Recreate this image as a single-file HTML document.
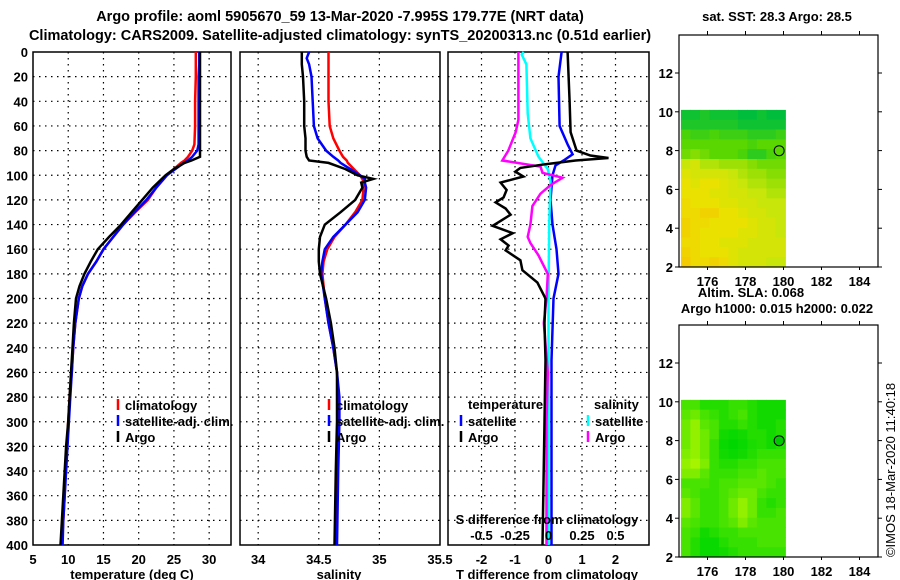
<!DOCTYPE html>
<html><head><meta charset="utf-8">
<style>
html,body{margin:0;padding:0;background:#fff;}
svg{display:block;font-family:"Liberation Sans",sans-serif;font-weight:bold;}
text{font-size:13px;fill:#000;}
</style></head>
<body>
<svg id="chart" width="900" height="580" viewBox="0 0 900 580" xmlns="http://www.w3.org/2000/svg">
<text x="340" y="21" text-anchor="middle" style="font-size:14.5px">Argo profile: aoml 5905670_59 13-Mar-2020 -7.995S 179.77E (NRT data)</text>
<text x="340" y="40" text-anchor="middle" style="font-size:14.5px">Climatology: CARS2009. Satellite-adjusted climatology: synTS_20200313.nc (0.51d earlier)</text>
<g id="p1"></g>
<g id="p2"></g>
<g id="p3"></g>
<g id="m1"></g>
<g id="m2"></g>
<text x="0" y="0" transform="translate(895,470) rotate(-90)" text-anchor="middle" style="font-weight:normal;font-size:13px">©IMOS 18-Mar-2020 11:40:18</text>
</svg>
<script>
// ---- data ----
const depthTicks = [0,20,40,60,80,100,120,140,160,180,200,220,240,260,280,300,320,340,360,380,400];
const tTicks = [5,10,15,20,25,30];
const sTicks = [34,34.5,35,35.5];
const sTickLabels = ["34","34.5","35","35.5"];
const dTTicks = [-2,-1,0,1,2];
const dSTicks = [-0.5,-0.25,0,0.25,0.5];
const dSTickLabels = ["-0.5","-0.25","0","0.25","0.5"];

const tDepth = [0,10,20,40,60,75,80,85,88,90,95,100,110,120,130,140,150,160,170,180,190,200,220,240,260,280,300,320,340,360,380,400];
const tArgo = [28.7,28.7,28.7,28.7,28.7,28.7,28.7,28.7,27.5,26.5,25,23.8,22,20.5,19,17.5,15.8,14.2,13.2,12.3,11.6,11.1,10.8,10.6,10.4,10.2,10,9.7,9.5,9.3,9.1,8.9];
const tClim = [28.1,28.1,28.1,28.0,28.0,27.9,27.6,27.0,26.5,26.0,25.0,24.0,22.5,21.3,19.5,17.8,16.4,15.0,14,12.8,12,11.5,11,10.7,10.5,10.2,10.0,9.8,9.6,9.5,9.3,9.1];
const tSat = [28.6,28.6,28.5,28.5,28.5,28.5,28.3,27.6,27,26.4,25.2,24,22.5,21.1,19.4,17.8,16.4,15,14,12.8,12,11.5,11,10.7,10.5,10.3,10.1,9.9,9.7,9.5,9.3,9.2];

const sDepth = [0,5,10,20,40,60,70,80,85,88,90,95,100,103,106,110,120,130,140,150,160,170,180,200,220,240,260,280,300,340,400];
const sArgo = [34.36,34.36,34.36,34.37,34.38,34.38,34.39,34.39,34.40,34.42,34.58,34.72,34.82,34.95,34.85,34.86,34.80,34.68,34.55,34.51,34.50,34.50,34.51,34.56,34.6,34.63,34.65,34.65,34.65,34.64,34.63];
const sClim = [34.58,34.58,34.58,34.58,34.58,34.59,34.62,34.67,34.70,34.73,34.74,34.79,34.84,34.86,34.87,34.87,34.86,34.80,34.72,34.63,34.57,34.54,34.53,34.55,34.58,34.62,34.65,34.66,34.66,34.65,34.64];
const sSat = [34.42,34.40,34.42,34.44,34.45,34.46,34.49,34.56,34.62,34.66,34.68,34.76,34.84,34.88,34.88,34.89,34.88,34.82,34.72,34.62,34.55,34.53,34.52,34.55,34.58,34.62,34.65,34.67,34.67,34.66,34.65];

const dtArgoDepth = [0,20,40,65,80,84,86,88,91,94,97,101,106,112,118,122,127,132,137,141,147,152,157,161,169,177,187,200,220,250,300,350,400];
const dtArgo = [0.57,0.6,0.63,0.66,0.84,1.25,1.79,0.81,-0.09,-0.84,-0.99,-0.75,-1.43,-1.25,-1.34,-1.58,-1.28,-1.13,-1.43,-1.67,-1.07,-1.43,-1.19,-1.28,-0.84,-0.78,-0.33,-0.09,-0.12,-0.09,-0.12,-0.15,-0.18];
const dtSatDepth = [0,20,60,75,83,88,92,100,120,140,160,180,200,250,300,400];
const dtSat = [0.39,0.3,0.33,0.57,0.72,0.45,0.21,0.12,0.06,0.12,0.24,0.3,0.15,0.09,0.09,0.09];
const dsArgoDepth = [0,55,65,80,88,93,98,102,108,115,125,140,150,155,165,180,200,220,240,260,300,350,400];
const dsArgo = [-0.225,-0.225,-0.245,-0.3,-0.345,-0.06,-0.045,0.105,0.015,-0.06,-0.12,-0.135,-0.155,-0.135,-0.075,-0.005,-0.015,-0.035,-0.02,-0.005,-0.015,-0.015,-0.015];
const dsSatDepth = [0,2,10,50,70,85,95,105,140,200,300,400];
const dsSat = [-0.185,-0.2,-0.165,-0.155,-0.135,-0.075,-0.005,0.015,0.005,0,0,0];

const mapLatTicks = [2,4,6,8,10,12];
const mapLonTicks = [176,178,180,182,184];
const argoLon = 179.77, argoLat = 7.995;
const sstGrid = [
[0.05,0.05,0.1,0.05,0.05,0.05,0.0,0.0,0.05,0.0,0.0],
[0.1,0.1,0.1,0.1,0.1,0.1,0.05,0.05,0.05,0.05,0.05],
[0.25,0.2,0.2,0.25,0.2,0.2,0.2,0.15,0.15,0.15,0.2],
[0.3,0.3,0.3,0.3,0.3,0.3,0.3,0.25,0.3,0.3,0.3],
[0.35,0.4,0.35,0.3,0.3,0.3,0.25,0.15,0.15,0.25,0.3],
[0.55,0.6,0.5,0.5,0.45,0.45,0.45,0.4,0.35,0.35,0.35],
[0.65,0.6,0.6,0.6,0.6,0.55,0.5,0.45,0.45,0.4,0.4],
[0.7,0.65,0.7,0.7,0.65,0.6,0.55,0.5,0.5,0.45,0.45],
[0.7,0.7,0.7,0.65,0.65,0.6,0.6,0.55,0.55,0.5,0.5],
[0.75,0.7,0.7,0.7,0.65,0.65,0.6,0.6,0.55,0.55,0.55],
[0.75,0.75,0.8,0.8,0.7,0.7,0.65,0.6,0.6,0.55,0.55],
[0.8,0.75,0.75,0.7,0.7,0.7,0.7,0.65,0.6,0.6,0.55],
[0.8,0.75,0.7,0.7,0.7,0.7,0.65,0.65,0.6,0.6,0.55],
[0.75,0.75,0.7,0.7,0.65,0.65,0.65,0.6,0.6,0.6,0.6],
[0.8,0.75,0.7,0.7,0.7,0.65,0.6,0.6,0.6,0.6,0.6],
[0.85,0.75,0.75,0.8,0.75,0.65,0.6,0.6,0.6,0.55,0.55]];
const slaGrid = [
[0.4,0.4,0.2,0.2,0.2,0.3,0.3,0.2,0.1,0.1,0.1],
[0.5,0.6,0.4,0.3,0.2,0.3,0.4,0.2,0.1,0.1,0.1],
[0.6,0.8,0.5,0.4,0.2,0.2,0.3,0.2,0.1,0.1,0.2],
[0.6,0.8,0.6,0.4,0.1,0.05,0.1,0.2,0.2,0.1,0.2],
[0.6,0.8,0.6,0.3,0.05,0.0,0.05,0.15,0.2,0.1,0.2],
[0.7,0.8,0.6,0.3,0.1,0.05,0.1,0.2,0.3,0.3,0.3],
[0.8,0.9,0.7,0.3,0.2,0.2,0.3,0.3,0.4,0.4,0.4],
[0.7,0.7,0.5,0.3,0.3,0.3,0.4,0.4,0.5,0.4,0.4],
[0.4,0.4,0.4,0.3,0.4,0.4,0.5,0.5,0.5,0.4,0.3],
[0.5,0.4,0.3,0.3,0.4,0.5,0.6,0.6,0.4,0.3,0.3],
[0.7,0.5,0.3,0.3,0.4,0.6,0.8,0.6,0.3,0.2,0.3],
[0.7,0.5,0.3,0.3,0.4,0.6,0.8,0.6,0.3,0.3,0.4],
[0.5,0.4,0.3,0.3,0.4,0.5,0.7,0.5,0.4,0.4,0.4],
[0.4,0.3,0.1,0.2,0.3,0.3,0.4,0.4,0.4,0.4,0.4],
[0.4,0.2,0.05,0.05,0.2,0.3,0.3,0.3,0.4,0.4,0.4],
[0.4,0.2,0.05,0.05,0.1,0.2,0.3,0.3,0.3,0.3,0.3]];

// ---- helpers ----
const NS="http://www.w3.org/2000/svg";
function mk(parent,tag,attrs,txt){const e=document.createElementNS(NS,tag);for(const k in attrs)e.setAttribute(k,attrs[k]);if(txt!==undefined)e.textContent=txt;parent.appendChild(e);return e;}
const Y0=52, Y1=545;
const yD = d => Y0 + d*(Y1-Y0)/400;

function panel(g, x0, x1, xmin, xmax, xt, xtl, showY){
  const xs = v => x0 + (v-xmin)/(xmax-xmin)*(x1-x0);
  depthTicks.forEach(d=>{
    const y=yD(d);
    if(d>0&&d<400){const l=mk(g,'line',{x1:x0,x2:x1,y1:y,y2:y,stroke:'#000','stroke-width':1.2,'stroke-dasharray':'1.5,4.5'});
    
    }
    if(showY){const t=mk(g,'text',{x:x0-5,y:y+5,'text-anchor':'end'},String(d));
    
    }
  });
  xt.forEach((v,i)=>{
    const x=xs(v);
    if(x>x0+1&&x<x1-1){const l=mk(g,'line',{x1:x,x2:x,y1:Y0,y2:Y1,stroke:'#000','stroke-width':1.2,'stroke-dasharray':'1.5,4.5'});
    
    }
    if(xtl){const t=mk(g,'text',{x:x,y:Y1+19,'text-anchor':'middle'},xtl[i]);
    
    }
  });
  const r=mk(g,'rect',{x:x0,y:Y0,width:x1-x0,height:Y1-Y0,fill:'none',stroke:'#000','stroke-width':1.5});
  
  
  return xs;
}
function line(g, xs, vals, depths, color, name, w){
  const pts = vals.map((v,i)=>xs(v).toFixed(1)+','+yD(depths[i]).toFixed(1)).join(' ');
  const p=mk(g,'polyline',{points:pts,fill:'none',stroke:color,'stroke-width':w||2.5,'stroke-linejoin':'miter'});
  
  
}
function legendEntry(g,x,y,color,label,name){
  const m=mk(g,'line',{x1:x,x2:x,y1:y-11,y2:y,stroke:color,'stroke-width':2.5});
  
  
  const t=mk(g,'text',{x:x+7,y:y},label);
  
  
}

// panel 1
const g1=document.getElementById('p1');
const xs1=panel(g1,33,231,5,33.1,tTicks,tTicks.map(String),true);
line(g1,xs1,tClim,tDepth,'#f00','temperature-climatology-line');
line(g1,xs1,tSat,tDepth,'#00f','temperature-satellite-line');
line(g1,xs1,tArgo,tDepth,'#000','temperature-argo-line');
legendEntry(g1,118,410,'#f00','climatology','legend-climatology');
legendEntry(g1,118,426,'#00f','satellite-adj. clim.','legend-satellite');
legendEntry(g1,118,442,'#000','Argo','legend-argo');
let t=mk(g1,'text',{x:132,y:579,'text-anchor':'middle'},'temperature (deg C)');



// panel 2
const g2=document.getElementById('p2');
const xs2=panel(g2,240,440,33.85,35.5,sTicks,sTickLabels,false);
line(g2,xs2,sClim,sDepth,'#f00','salinity-climatology-line');
line(g2,xs2,sSat,sDepth,'#00f','salinity-satellite-line');
line(g2,xs2,sArgo,sDepth,'#000','salinity-argo-line');
legendEntry(g2,329,410,'#f00','climatology','legend-climatology');
legendEntry(g2,329,426,'#00f','satellite-adj. clim.','legend-satellite');
legendEntry(g2,329,442,'#000','Argo','legend-argo');
t=mk(g2,'text',{x:339,y:579,'text-anchor':'middle'},'salinity');



// panel 3
const g3=document.getElementById('p3');
const xs3=panel(g3,448,649,-3,3,dTTicks,dTTicks.map(String),false);
const xsS = v => xs3(v*4);
line(g3,xs3,dtSat,dtSatDepth,'#00f','t-diff-satellite-line');
line(g3,xsS,dsSat,dsSatDepth,'#0ff','s-diff-satellite-line');
line(g3,xsS,dsArgo,dsArgoDepth,'#f0f','s-diff-argo-line');
line(g3,xs3,dtArgo,dtArgoDepth,'#000','t-diff-argo-line');
t=mk(g3,'text',{x:468,y:409},'temperature');


t=mk(g3,'text',{x:594,y:409},'salinity');


legendEntry(g3,461,426,'#00f','satellite','legend-t-satellite');
legendEntry(g3,461,442,'#000','Argo','legend-t-argo');
legendEntry(g3,588,426,'#0ff','satellite','legend-s-satellite');
legendEntry(g3,588,442,'#f0f','Argo','legend-s-argo');
t=mk(g3,'text',{x:547,y:524,'text-anchor':'middle'},'S difference from climatology');


dSTicks.forEach((v,i)=>{
  const tt=mk(g3,'text',{x:xsS(v),y:540,'text-anchor':'middle'},dSTickLabels[i]);
  
  
});
t=mk(g3,'text',{x:547,y:579,'text-anchor':'middle'},'T difference from climatology');



// maps
function lerpCol(stops,v){
  for(let i=0;i<stops.length-1;i++){const a=stops[i],b=stops[i+1];
    if(v<=b[0]){const f=(v-a[0])/(b[0]-a[0]);return 'rgb('+[1,2,3].map(k=>Math.round(a[k]+(b[k]-a[k])*f)).join(',')+')';}}
  const l=stops[stops.length-1];return 'rgb('+l[1]+','+l[2]+','+l[3]+')';
}
function map(g, top, bottom, grid, stops, title, titleY, circFill, name){
  const L=679,R=878;
  const xl = lon => L + (lon-174.5)*19;
  const yl = lat => bottom - (lat-2)*19.4;
  const rows=grid.length, cols=grid[0].length;
  const dLat=(10.1-2)/rows, dLon=(180.1-174.6)/cols;
  grid.forEach((row,ri)=>row.forEach((v,ci)=>{
    const x=xl(174.6+ci*dLon), y=yl(10.1-ri*dLat);
    const c=mk(g,'rect',{x:x.toFixed(1),y:y.toFixed(1),width:(xl(174.6+(ci+1)*dLon)-x+0.5).toFixed(1),height:(yl(10.1-(ri+1)*dLat)-y+0.5).toFixed(1),fill:lerpCol(stops,v)});
    
    
  }));
  const fr=mk(g,'rect',{x:L,y:top,width:R-L,height:bottom-top,fill:'none',stroke:'#000','stroke-width':1.2});
  
  
  mapLatTicks.forEach(lat=>{
    const y=yl(lat);
    mk(g,'line',{x1:L-4,x2:L,y1:y,y2:y,stroke:'#000'});
    mk(g,'line',{x1:R,x2:R+4,y1:y,y2:y,stroke:'#000'});
    const tt=mk(g,'text',{x:L-6,y:y+5,'text-anchor':'end'},String(lat));
    
    
  });
  mapLonTicks.forEach(lon=>{
    const x=xl(lon);
    mk(g,'line',{x1:x,x2:x,y1:top-4,y2:top,stroke:'#000'});
    mk(g,'line',{x1:x,x2:x,y1:bottom,y2:bottom+3,stroke:'#000'});
    const tt=mk(g,'text',{x:x,y:bottom+19,'text-anchor':'middle'},String(lon));
    
    
  });
  const c=mk(g,'circle',{cx:xl(argoLon),cy:yl(argoLat),r:5,fill:circFill,stroke:'#000','stroke-width':1});
  
  
  const tt=mk(g,'text',{x:777,y:titleY,'text-anchor':'middle'},title);
  
  
}
const sstStops=[[0,0,190,60],[0.3,90,215,0],[0.55,200,230,10],[0.7,235,225,0],[1,250,180,0]];
const slaStops=[[0,0,215,0],[0.5,90,230,0],[1,185,248,0]];
map(document.getElementById('m1'),35,267,sstGrid,sstStops,'sat. SST: 28.3 Argo: 28.5',21,'none','sst-map');
map(document.getElementById('m2'),325,557,slaGrid,slaStops,'Argo h1000: 0.015 h2000: 0.022',313,'#00c800','sla-map');
t=mk(document.getElementById('m1'),'text',{x:751,y:297,'text-anchor':'middle'},'Altim. SLA: 0.068');


</script>
</body></html>
